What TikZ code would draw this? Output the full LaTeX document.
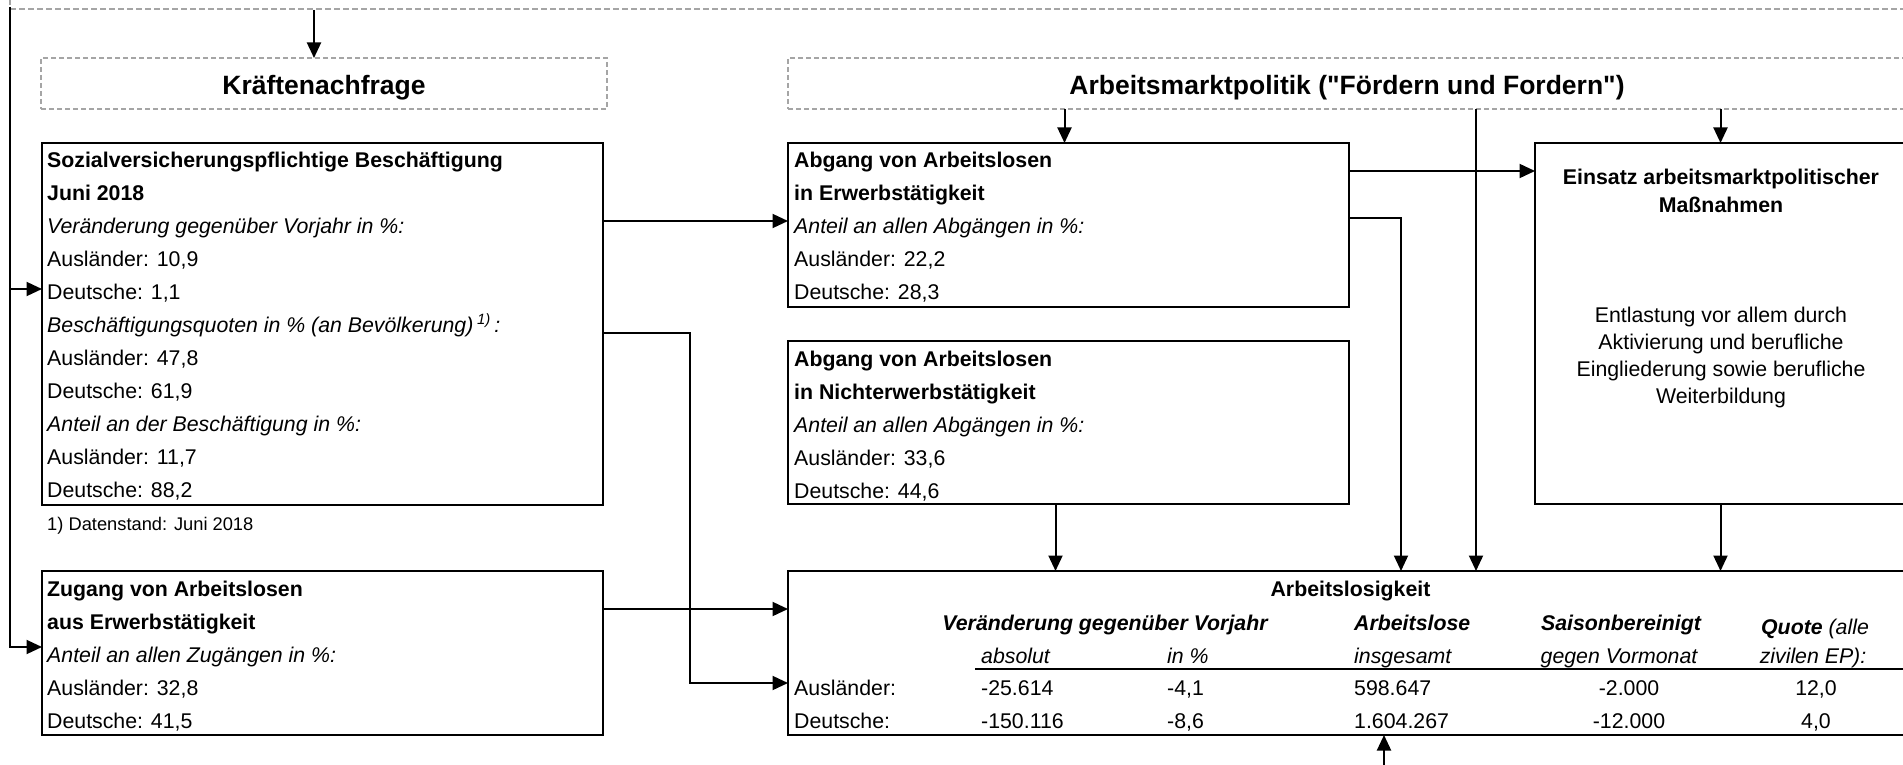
\documentclass[tikz,border=0pt]{standalone}
\usepackage{fontspec}
\setmainfont{Liberation Sans}[Ligatures=TeXOff]
\usetikzlibrary{arrows.meta}
\definecolor{dashgray}{RGB}{165,165,165}
\begin{document}
\begin{tikzpicture}[x=1pt,y=-1pt,
  box/.style={draw=black,line width=1.1pt,rectangle,inner sep=0pt,outer sep=0pt,anchor=north west},
  dbox/.style={draw=dashgray,line width=1.2pt,dash pattern=on 5pt off 3pt,rectangle,inner sep=0pt,outer sep=0pt,anchor=north west},
  conn/.style={line width=2pt,draw=black},
  arr/.style={conn,-{Triangle[length=15.5pt,width=14pt]}},
  txt/.style={inner sep=0pt,anchor=base west,font=\fontsize{21.3}{25}\selectfont},
  txtb/.style={txt,font=\fontsize{21.3}{25}\selectfont\bfseries},
  txti/.style={txt,font=\fontsize{21.3}{25}\selectfont\itshape},
  txtbi/.style={txt,font=\fontsize{21.3}{25}\selectfont\bfseries\itshape},
  hd/.style={inner sep=0pt,anchor=base,font=\fontsize{26.5}{30}\selectfont\bfseries},
  foot/.style={inner sep=0pt,anchor=base west,font=\fontsize{18.3}{22}\selectfont}
]
\useasboundingbox (0,0) rectangle (1903,765);

% top dashed frame (cut off)
\node[draw=dashgray,line width=1.6pt,dash pattern=on 6pt off 3pt,rectangle,inner sep=0pt,outer sep=0pt,anchor=south west,minimum width=1960pt,minimum height=70pt] (topb) at (10,9) {};

% header boxes
\node[dbox, minimum width=566pt, minimum height=51pt] (kn) at (41,58) {};
\node[hd] (knt) at (324,94.5) {Kräftenachfrage};
\node[dbox, minimum width=1118pt, minimum height=51pt] (amp) at (788,58) {};
\node[hd] (ampt) at (1347,94.5) {Arbeitsmarktpolitik ("Fördern und Fordern")};

% boxes
\node[box, minimum width=561pt, minimum height=362pt] (soz) at (42,143) {};
\node[box, minimum width=561pt, minimum height=164pt] (zug) at (42,571) {};
\node[box, minimum width=561pt, minimum height=164pt] (erw) at (788,143) {};
\node[box, minimum width=561pt, minimum height=163pt] (nerw) at (788,341) {};
\node[box, minimum width=371pt, minimum height=361pt] (eins) at (1535,143) {};
\node[box, minimum width=1118pt, minimum height=164pt] (alo) at (788,571) {};

% Sozial text
\node[txtb] (s1) at (47,167.5) {Sozialversicherungspflichtige Beschäftigung};
\node[txtb] (s2) at (47,200.5) {Juni 2018};
\node[txti] (s3) at (47,233.5) {Veränderung gegenüber Vorjahr in \%:};
\node[txt] (s4) at (47,266.5) {Ausländer: 10,9};
\node[txt] (s5) at (47,299.5) {Deutsche: 1,1};
\node[txti] (s6) at (47,332.5) {Beschäftigungsquoten in \% (an Bevölkerung)\,\textsuperscript{1)}\,:};
\node[txt] (s7) at (47,365.5) {Ausländer: 47,8};
\node[txt] (s8) at (47,398.5) {Deutsche: 61,9};
\node[txti] (s9) at (47,431.5) {Anteil an der Beschäftigung in \%:};
\node[txt] (s10) at (47,464.5) {Ausländer: 11,7};
\node[txt] (s11) at (47,497.5) {Deutsche: 88,2};
\node[foot] (fn) at (47,530.5) {1) Datenstand: Juni 2018};

% Zugang text
\node[txtb] (z1) at (47,596.5) {Zugang von Arbeitslosen};
\node[txtb] (z2) at (47,629.5) {aus Erwerbstätigkeit};
\node[txti] (z3) at (47,662.5) {Anteil an allen Zugängen in \%:};
\node[txt] (z4) at (47,695.5) {Ausländer: 32,8};
\node[txt] (z5) at (47,728.5) {Deutsche: 41,5};

% Abgang Erwerb text
\node[txtb] (e1) at (794,167.5) {Abgang von Arbeitslosen};
\node[txtb] (e2) at (794,200.5) {in Erwerbstätigkeit};
\node[txti] (e3) at (794,233.5) {Anteil an allen Abgängen in \%:};
\node[txt] (e4) at (794,266.5) {Ausländer: 22,2};
\node[txt] (e5) at (794,299.5) {Deutsche: 28,3};

% Abgang Nichterwerb text
\node[txtb] (n1) at (794,366.5) {Abgang von Arbeitslosen};
\node[txtb] (n2) at (794,399.5) {in Nichterwerbstätigkeit};
\node[txti] (n3) at (794,432.5) {Anteil an allen Abgängen in \%:};
\node[txt] (n4) at (794,465.5) {Ausländer: 33,6};
\node[txt] (n5) at (794,498.5) {Deutsche: 44,6};

% Einsatz text
\node[txtb,anchor=base] (i1) at (1721,184.5) {Einsatz arbeitsmarktpolitischer};
\node[txtb,anchor=base] (i2) at (1721,212.5) {Maßnahmen};
\node[txt,anchor=base] (i3) at (1721,322.5) {Entlastung vor allem durch};
\node[txt,anchor=base] (i4) at (1721,349.5) {Aktivierung und berufliche};
\node[txt,anchor=base] (i5) at (1721,376.5) {Eingliederung sowie berufliche};
\node[txt,anchor=base] (i6) at (1721,403.5) {Weiterbildung};

% Arbeitslosigkeit table
\node[txtb,anchor=base] (a0) at (1350.5,596.5) {Arbeitslosigkeit};
\node[txtbi,anchor=base] (h1) at (1105,630.5) {Veränderung gegenüber Vorjahr};
\node[txtbi] (h2) at (1354,630.5) {Arbeitslose};
\node[txtbi,anchor=base] (h3) at (1621,630.5) {Saisonbereinigt};
\node[txti,anchor=base] (h4) at (1815,634.5) {\textbf{Quote} (alle};
\node[txti] (u1) at (981,663.5) {absolut};
\node[txti] (u2) at (1167,663.5) {in \%};
\node[txti] (u3) at (1354,663.5) {insgesamt};
\node[txti,anchor=base] (u4) at (1619,663.5) {gegen Vormonat};
\node[txti,anchor=base] (u5) at (1813,663.5) {zivilen EP):};
\coordinate (rl) at (975,669);
\coordinate (rr) at (1910,669);
\draw[line width=1.2pt] (rl) -- (rr);
\node[txt] (r1a) at (794,695.5) {Ausländer:};
\node[txt] (r1b) at (981,695.5) {-25.614};
\node[txt] (r1c) at (1167,695.5) {-4,1};
\node[txt] (r1d) at (1354,695.5) {598.647};
\node[txt,anchor=base] (r1e) at (1629,695.5) {-2.000};
\node[txt,anchor=base] (r1f) at (1816,695.5) {12,0};
\node[txt] (r2a) at (794,728.5) {Deutsche:};
\node[txt] (r2b) at (981,728.5) {-150.116};
\node[txt] (r2c) at (1167,728.5) {-8,6};
\node[txt] (r2d) at (1354,728.5) {1.604.267};
\node[txt,anchor=base] (r2e) at (1629,728.5) {-12.000};
\node[txt,anchor=base] (r2f) at (1816,728.5) {4,0};

% connectors
\coordinate (t1) at (314,10);
\draw[arr] (t1) -- (t1 |- kn.north);
\coordinate (lv) at (10,7);
\draw[arr] (lv) |- ([yshift=-146pt]soz.north west);
\draw[arr] (lv) |- ([yshift=-76pt]zug.north west);
\draw[arr] ([yshift=-78pt]soz.north east) -- ([yshift=-78pt]erw.north west);
\draw[arr] ([yshift=-190pt]soz.north east) -- ++(87,0) |- ([yshift=-112pt]alo.north west);
\draw[arr] ([yshift=-38pt]zug.north east) -- ([yshift=-38pt]alo.north west);
\draw[arr] ([yshift=-28pt]erw.north east) -- ([yshift=-28pt]eins.north west);
\draw[arr] ([yshift=-75pt]erw.north east) -| ([xshift=613pt]alo.north west);
\draw[arr] ([xshift=-13pt]nerw.south) -- ([xshift=-13pt]nerw.south |- alo.north);
\draw[arr] (eins.south) -- (eins.south |- alo.north);
\draw[arr] ([xshift=-4pt]erw.north |- amp.south) -- ([xshift=-4pt]erw.north);
\draw[arr] (eins.north |- amp.south) -- (eins.north);
\draw[arr] ([xshift=688pt]alo.north west |- amp.south) -- ([xshift=688pt]alo.north west);
\coordinate (b1) at (1384,765);
\draw[arr] (b1) -- (b1 |- alo.south);
\end{tikzpicture}
\end{document}
